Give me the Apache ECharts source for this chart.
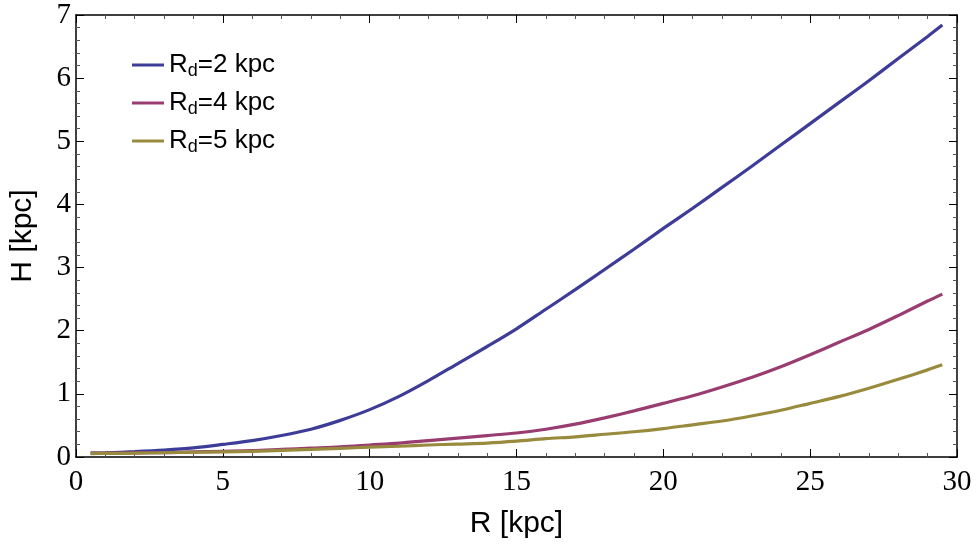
<!DOCTYPE html>
<html>
<head>
<meta charset="utf-8">
<script src="https://cdn.jsdelivr.net/npm/echarts@6/dist/echarts.min.js"></script>
<style>
  html, body { margin: 0; padding: 0; background: #fff; }
  #chart { width: 976px; height: 546px; }
</style>
</head>
<body>
<div id="chart"></div>
<script>
// R [kpc] sample points
const rValues = [0.5, 1, 2, 3, 4, 5, 6, 7, 8, 9, 10, 11, 12, 13, 14, 15, 16, 17, 18, 19, 20,
  21, 22, 23, 24, 25, 26, 27, 28, 29, 29.5];

// H [kpc] for each disc scale length
const hRd2 = [0.06, 0.065, 0.085, 0.11, 0.145, 0.2, 0.26, 0.34, 0.44, 0.58, 0.75, 0.96, 1.21, 1.48,
  1.75, 2.03, 2.34, 2.65, 2.97, 3.29, 3.62, 3.94, 4.27, 4.60, 4.94, 5.28, 5.62, 5.96, 6.31, 6.66, 6.84];
const hRd4 = [0.06, 0.06, 0.065, 0.07, 0.08, 0.09, 0.10, 0.12, 0.14, 0.16, 0.19, 0.22, 0.26, 0.30,
  0.34, 0.38, 0.44, 0.52, 0.62, 0.73, 0.85, 0.97, 1.11, 1.26, 1.43, 1.62, 1.82, 2.02, 2.24, 2.47, 2.58];
const hRd5 = [0.055, 0.057, 0.06, 0.067, 0.075, 0.082, 0.09, 0.105, 0.12, 0.137, 0.155, 0.17, 0.19, 0.205,
  0.22, 0.25, 0.29, 0.32, 0.36, 0.40, 0.45, 0.51, 0.57, 0.65, 0.74, 0.85, 0.96, 1.09, 1.23, 1.38, 1.46];

const seriesNames = ['Rd=2 kpc', 'Rd=4 kpc', 'Rd=5 kpc'];
const legendLabels = ['2 kpc', '4 kpc', '5 kpc'];
const colors = ['#3d3d99', '#993d71', '#998b3d'];

const pairs = (ys) => rValues.map((r, i) => [r, ys[i]]);

const chart = echarts.init(document.getElementById('chart'));

const serif = 'Liberation Serif';
const sans = 'Liberation Sans';

// shared style for the frame axes (ticks inside, minor ticks)
const frameAxis = {
  axisLine: { show: true, onZero: false, lineStyle: { color: '#000', width: 1.5 } },
  axisTick: { show: true, inside: true, length: 8, lineStyle: { color: '#000', width: 1 } },
  minorTick: { show: true, splitNumber: 5, length: 4, lineStyle: { color: '#555', width: 1 } },
  splitLine: { show: false },
  minorSplitLine: { show: false }
};

const option = {
  animation: false,
  backgroundColor: '#fff',
  grid: { left: 73, right: 19, top: 15, bottom: 89 },
  legend: {
    orient: 'vertical',
    left: 127,
    top: 47,
    itemWidth: 32,
    itemHeight: 3,
    itemGap: 10,
    icon: 'rect',
    data: seriesNames,
    formatter: (name) => '{r|R}{s|d}{r|=' + legendLabels[seriesNames.indexOf(name)] + '}',
    textStyle: {
      fontFamily: sans,
      color: '#000',
      rich: {
        r: { fontFamily: sans, fontSize: 26, lineHeight: 30, color: '#000' },
        s: { fontFamily: sans, fontSize: 18, lineHeight: 30, verticalAlign: 'bottom', color: '#000' }
      }
    }
  },
  xAxis: [
    Object.assign({}, frameAxis, {
      type: 'value', min: 0, max: 30, interval: 5,
      name: 'R [kpc]', nameLocation: 'middle', nameGap: 52,
      nameTextStyle: { fontFamily: sans, fontSize: 30, color: '#000' },
      axisLabel: { fontFamily: serif, fontSize: 29, color: '#000', margin: 11 }
    }),
    Object.assign({}, frameAxis, {
      type: 'value', min: 0, max: 30, interval: 5, position: 'top',
      axisLabel: { show: false }
    })
  ],
  yAxis: [
    Object.assign({}, frameAxis, {
      type: 'value', min: 0, max: 7, interval: 1,
      name: 'H [kpc]', nameLocation: 'middle', nameGap: 38,
      nameTextStyle: { fontFamily: sans, fontSize: 30, color: '#000' },
      axisLabel: { fontFamily: serif, fontSize: 29, color: '#000', margin: 5 }
    }),
    Object.assign({}, frameAxis, {
      type: 'value', min: 0, max: 7, interval: 1, position: 'right',
      axisLabel: { show: false }
    })
  ],
  series: [hRd2, hRd4, hRd5].map((ys, i) => ({
    name: seriesNames[i],
    type: 'line',
    xAxisIndex: 0,
    yAxisIndex: 0,
    data: pairs(ys),
    smooth: 0.3,
    showSymbol: false,
    symbol: 'none',
    itemStyle: { color: colors[i] },
    lineStyle: { color: colors[i], width: 3.2 }
  }))
};

chart.setOption(option);
</script>
</body>
</html>
